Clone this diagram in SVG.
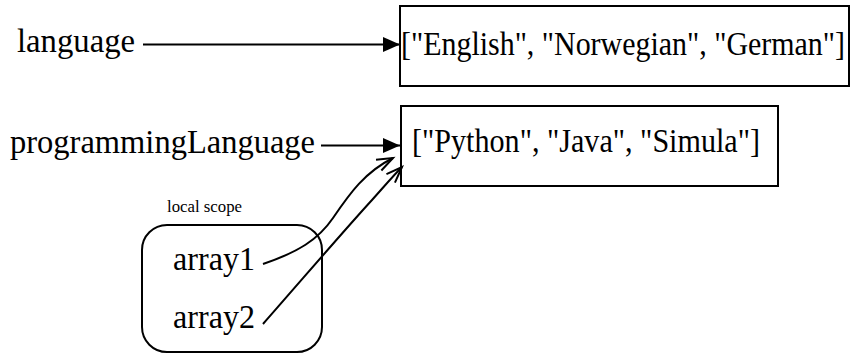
<svg xmlns="http://www.w3.org/2000/svg" width="851" height="362" viewBox="0 0 851 362">
<style>
text{font-family:"Liberation Serif","Times New Roman",serif;fill:#000}
.t{font-size:33px}
.s{font-size:17px}
.box{fill:#fff;stroke:#000;stroke-width:2}
.c{fill:none;stroke:#000;stroke-width:2}
</style>
<defs>
<marker id="fa" markerWidth="18" markerHeight="16" refX="17" refY="7.5" orient="auto" markerUnits="userSpaceOnUse">
<path d="M0,0 L17,7.5 L0,15 Z" fill="#000"/>
</marker>
<marker id="oa" markerWidth="20" markerHeight="16" refX="17" refY="7" orient="auto" markerUnits="userSpaceOnUse">
<path d="M1,1 L17,7 L1,13" fill="none" stroke="#000" stroke-width="2"/>
</marker>
</defs>
<g id="node-english">
<rect class="box" x="400" y="6" width="449" height="80"/>
<text class="t" x="401" y="55" textLength="444" lengthAdjust="spacingAndGlyphs">["English", "Norwegian", "German"]</text>
</g>
<g id="node-python">
<rect class="box" x="401" y="106" width="377" height="80"/>
<text class="t" x="412" y="152" textLength="348" lengthAdjust="spacingAndGlyphs">["Python", "Java", "Simula"]</text>
</g>
<g id="node-language">
<text class="t" x="17" y="52" textLength="118" lengthAdjust="spacingAndGlyphs">language</text>
</g>
<g id="node-programmingLanguage">
<text class="t" x="10" y="153" textLength="305" lengthAdjust="spacingAndGlyphs">programmingLanguage</text>
</g>
<g id="node-localscope">
<text class="s" x="167" y="212" textLength="75" lengthAdjust="spacingAndGlyphs">local scope</text>
<rect class="box" x="142" y="225" width="180" height="127" rx="25" ry="25"/>
</g>
<g id="node-array1">
<text class="t" x="173" y="270" textLength="82" lengthAdjust="spacingAndGlyphs">array1</text>
</g>
<g id="node-array2">
<text class="t" x="173" y="328" textLength="82" lengthAdjust="spacingAndGlyphs">array2</text>
</g>
<g id="connectors">
<path class="c" d="M143,44.5 L400,44.5" marker-end="url(#fa)"/>
<path class="c" d="M321,145.5 L400,145.5" marker-end="url(#fa)"/>
<path class="c" d="M263,264 C298,252 318,240 333,218 C350,193 365,172 393,158" marker-end="url(#oa)"/>
<path class="c" d="M263,324 C300,282 340,235 372,200 C382,189 392,177 402,167" marker-end="url(#oa)"/>
</g>
</svg>
